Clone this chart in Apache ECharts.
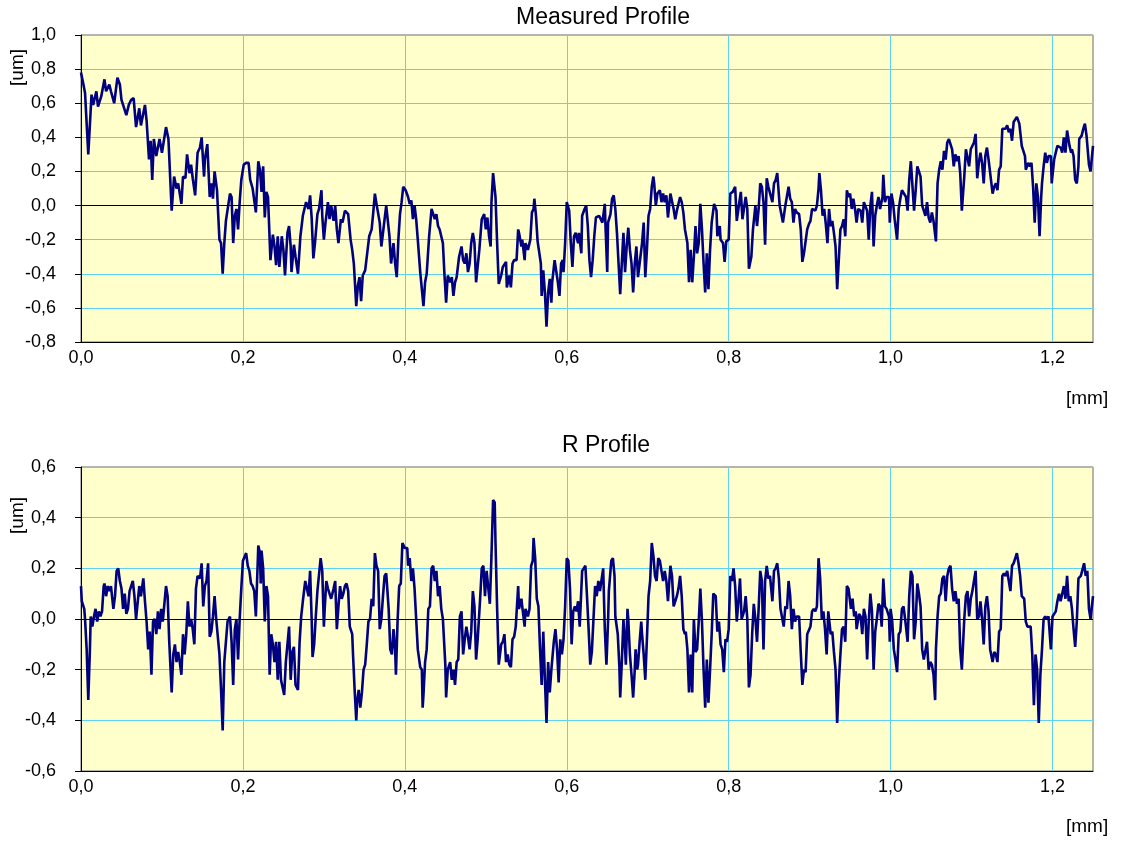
<!DOCTYPE html>
<html>
<head>
<meta charset="utf-8">
<title>Profiles</title>
<script src="https://cdn.jsdelivr.net/npm/echarts@6/dist/echarts.min.js"></script>
<style>
  html, body { margin: 0; padding: 0; background: #fff; }
  #chart { width: 1126px; height: 841px; }
</style>
</head>
<body>
<div id="chart"></div>
<script>
// [mm, um] pairs
var measuredProfile = [
  [0.000,0.78],[0.003,0.71],[0.005,0.66],[0.009,0.30],[0.013,0.65],[0.015,0.59],[0.019,0.67],[0.021,0.58],
  [0.025,0.64],[0.029,0.74],[0.031,0.67],[0.035,0.71],[0.037,0.67],[0.041,0.60],[0.045,0.75],[0.048,0.71],
  [0.050,0.62],[0.052,0.63],[0.056,0.53],[0.059,0.59],[0.062,0.62],[0.065,0.63],[0.068,0.46],[0.072,0.57],
  [0.074,0.47],[0.079,0.59],[0.081,0.50],[0.084,0.27],[0.086,0.38],[0.088,0.15],[0.090,0.39],[0.093,0.29],
  [0.097,0.39],[0.100,0.31],[0.102,0.37],[0.105,0.46],[0.108,0.39],[0.112,-0.03],[0.115,0.17],[0.118,0.10],
  [0.120,0.13],[0.124,0.01],[0.126,0.17],[0.129,0.16],[0.131,0.30],[0.134,0.19],[0.136,0.24],[0.138,0.16],
  [0.141,0.06],[0.144,0.31],[0.147,0.34],[0.149,0.40],[0.152,0.17],[0.153,0.27],[0.156,0.36],[0.159,0.05],
  [0.161,0.13],[0.163,0.04],[0.165,0.20],[0.168,0.09],[0.171,-0.20],[0.173,-0.22],[0.175,-0.40],[0.177,-0.22],
  [0.179,-0.09],[0.181,-0.10],[0.184,0.07],[0.186,0.05],[0.188,-0.22],[0.190,-0.06],[0.192,-0.02],[0.194,-0.14],
  [0.196,0.02],[0.198,0.15],[0.201,0.24],[0.204,0.25],[0.207,0.25],[0.209,0.15],[0.212,0.10],[0.214,0.11],
  [0.216,-0.04],[0.219,0.26],[0.221,0.21],[0.223,0.08],[0.225,0.23],[0.227,-0.07],[0.229,0.08],[0.231,0.05],
  [0.234,-0.32],[0.237,-0.17],[0.239,-0.24],[0.241,-0.35],[0.243,-0.18],[0.245,-0.36],[0.248,-0.18],
  [0.250,-0.26],[0.252,-0.41],[0.255,-0.16],[0.257,-0.12],[0.259,-0.24],[0.260,-0.39],[0.263,-0.23],[0.265,-0.30],
  [0.268,-0.40],[0.271,-0.18],[0.274,-0.06],[0.278,0.02],[0.281,-0.02],[0.283,0.06],[0.285,-0.08],[0.287,-0.31],
  [0.289,-0.22],[0.292,-0.05],[0.294,-0.02],[0.297,0.09],[0.298,-0.06],[0.300,-0.20],[0.302,-0.10],[0.305,0.02],
  [0.307,-0.08],[0.309,0.00],[0.312,-0.09],[0.314,0.00],[0.316,-0.14],[0.318,-0.22],[0.321,-0.08],[0.323,-0.10],
  [0.326,-0.03],[0.330,-0.05],[0.333,-0.20],[0.335,-0.26],[0.337,-0.34],[0.340,-0.59],[0.342,-0.47],[0.344,-0.42],
  [0.346,-0.56],[0.348,-0.41],[0.351,-0.38],[0.354,-0.26],[0.356,-0.18],[0.359,-0.14],[0.361,-0.04],[0.363,0.07],
  [0.365,0.01],[0.367,0.02],[0.369,-0.10],[0.371,-0.24],[0.374,-0.12],[0.377,0.00],[0.378,0.00],[0.381,-0.18],
  [0.383,-0.34],[0.386,-0.22],[0.388,-0.34],[0.390,-0.42],[0.392,-0.20],[0.394,-0.05],[0.396,0.02],[0.398,0.11],
  [0.401,0.09],[0.404,0.05],[0.406,0.01],[0.408,0.03],[0.410,-0.08],[0.412,0.00],[0.414,-0.08],[0.416,-0.20],
  [0.419,-0.39],[0.421,-0.40],[0.423,-0.59],[0.425,-0.45],[0.427,-0.40],[0.430,-0.18],[0.433,-0.02],[0.435,-0.02],
  [0.437,-0.08],[0.439,-0.05],[0.441,-0.12],[0.443,-0.14],[0.447,-0.22],[0.449,-0.41],[0.451,-0.57],[0.453,-0.41],
  [0.456,-0.45],[0.458,-0.42],[0.460,-0.53],[0.462,-0.45],[0.464,-0.42],[0.467,-0.30],[0.470,-0.24],[0.472,-0.32],
  [0.474,-0.34],[0.476,-0.28],[0.478,-0.39],[0.480,-0.34],[0.482,-0.22],[0.484,-0.16],[0.486,-0.22],[0.488,-0.45],
  [0.492,-0.26],[0.495,-0.08],[0.498,-0.05],
  [0.500,-0.14],[0.502,-0.07],[0.504,-0.18],[0.506,-0.24],[0.507,0.02],[0.509,0.19],[0.511,0.20],[0.512,0.05],
  [0.514,-0.22],[0.516,-0.46],[0.519,-0.41],[0.521,-0.36],[0.523,-0.36],[0.525,-0.33],[0.526,-0.48],[0.529,-0.41],
  [0.531,-0.48],[0.533,-0.34],[0.535,-0.32],[0.538,-0.32],[0.540,-0.14],[0.541,-0.16],[0.544,-0.24],[0.545,-0.20],
  [0.548,-0.32],[0.549,-0.22],[0.552,-0.26],[0.555,-0.20],[0.557,-0.04],[0.559,-0.02],[0.560,0.04],[0.562,-0.06],
  [0.564,-0.21],[0.566,-0.22],[0.568,-0.34],[0.569,-0.53],[0.571,-0.38],[0.573,-0.51],[0.575,-0.71],[0.577,-0.51],
  [0.579,-0.43],[0.581,-0.57],[0.582,-0.45],[0.585,-0.32],[0.586,-0.31],[0.589,-0.45],[0.591,-0.53],[0.593,-0.34],
  [0.595,-0.32],[0.596,-0.39],[0.598,-0.22],[0.600,0.02],[0.603,-0.03],[0.605,-0.22],[0.607,-0.36],[0.609,-0.18],
  [0.611,-0.16],[0.614,-0.22],[0.615,-0.16],[0.618,-0.28],[0.619,-0.06],[0.622,-0.02],[0.624,0.00],[0.626,-0.12],
  [0.628,-0.32],[0.630,-0.42],[0.632,-0.32],[0.634,-0.18],[0.636,-0.07],[0.638,-0.08],[0.640,-0.06],[0.642,-0.05],
  [0.644,-0.10],[0.647,0.01],[0.648,-0.14],[0.650,-0.39],[0.651,-0.10],[0.654,-0.05],[0.656,0.04],[0.658,0.06],
  [0.660,-0.02],[0.662,-0.16],[0.664,-0.34],[0.666,-0.52],[0.668,-0.34],[0.670,-0.16],[0.672,-0.39],[0.674,-0.24],
  [0.676,-0.13],[0.678,-0.26],[0.680,-0.34],[0.682,-0.51],[0.684,-0.34],[0.686,-0.24],[0.688,-0.42],[0.691,-0.30],
  [0.693,-0.22],[0.695,-0.10],[0.697,-0.42],[0.699,-0.26],[0.701,-0.06],[0.703,-0.02],[0.705,0.11],[0.707,0.17],
  [0.708,0.13],[0.710,0.00],[0.712,0.07],[0.715,0.09],[0.717,0.02],[0.719,0.07],[0.721,0.02],[0.723,0.06],
  [0.725,-0.07],[0.728,0.07],[0.730,0.07],[0.732,-0.02],[0.734,-0.08],[0.736,-0.03],[0.738,-0.02],[0.740,0.05],
  [0.742,0.02],[0.744,-0.04],[0.746,-0.14],
  [0.749,-0.22],[0.751,-0.45],[0.753,-0.26],[0.755,-0.45],[0.757,-0.30],[0.759,-0.12],[0.761,-0.28],[0.763,-0.22],
  [0.765,0.01],[0.767,-0.14],[0.769,-0.34],[0.771,-0.51],[0.773,-0.28],[0.775,-0.49],[0.777,-0.26],[0.779,-0.10],
  [0.782,0.01],[0.785,-0.03],[0.786,-0.18],[0.789,-0.12],[0.790,-0.20],[0.793,-0.22],[0.795,-0.33],[0.797,-0.21],
  [0.800,-0.20],[0.802,0.07],[0.805,0.08],[0.808,0.11],[0.810,-0.09],[0.812,-0.02],[0.815,0.08],[0.817,-0.08],
  [0.819,-0.08],[0.821,0.05],[0.823,-0.02],[0.825,-0.37],[0.828,-0.30],[0.830,-0.14],[0.833,0.00],[0.835,-0.12],
  [0.837,-0.02],[0.839,0.13],[0.841,0.11],[0.843,0.02],[0.845,-0.23],[0.847,0.16],[0.849,0.11],[0.851,0.12],
  [0.854,0.02],[0.856,0.13],[0.858,0.15],[0.860,0.19],[0.863,0.00],[0.865,0.00],[0.867,-0.10],[0.870,0.00],
  [0.872,0.00],[0.874,0.11],[0.876,0.04],[0.878,0.02],[0.880,-0.10],[0.882,-0.02],[0.884,-0.04],[0.887,-0.05],
  [0.889,-0.14],[0.891,-0.33],[0.893,-0.28],[0.895,-0.27],[0.897,-0.14],[0.899,-0.11],[0.901,-0.09],[0.903,-0.02],
  [0.905,-0.01],[0.907,-0.03],[0.909,0.00],[0.911,0.10],[0.912,0.19],[0.914,0.09],[0.916,-0.06],[0.918,-0.02],
  [0.920,-0.11],[0.922,-0.22],[0.924,-0.02],[0.926,-0.12],[0.928,-0.09],[0.930,-0.16],[0.932,-0.24],[0.934,-0.49],
  [0.936,-0.32],[0.938,-0.14],[0.940,-0.12],[0.942,-0.08],[0.944,-0.18],[0.946,0.09],[0.948,0.05],[0.950,0.07],
  [0.952,-0.02],[0.954,0.04],[0.956,-0.02],[0.958,-0.10],[0.960,-0.02],[0.963,-0.03],[0.965,-0.10],[0.967,0.02],
  [0.969,0.02],[0.971,-0.03],[0.973,-0.20],[0.975,0.00],[0.977,0.08],[0.979,-0.24],[0.981,-0.06],[0.983,0.00],
  [0.985,0.05],[0.987,-0.02],[0.990,0.05],[0.991,0.18],[0.993,0.02],[0.995,0.05],
  [0.996,0.04],[0.998,0.05],[0.999,-0.10],[1.001,0.07],[1.003,0.02],[1.005,-0.08],[1.008,-0.20],[1.010,-0.02],
  [1.012,0.04],[1.014,0.09],[1.016,0.10],[1.019,0.05],[1.021,-0.03],[1.023,0.15],[1.025,0.26],[1.027,0.25],
  [1.029,-0.03],[1.031,0.09],[1.033,0.23],[1.035,0.20],[1.037,0.17],[1.039,0.00],[1.041,-0.03],[1.043,-0.06],
  [1.045,0.02],[1.047,-0.07],[1.049,-0.10],[1.051,-0.04],[1.053,-0.09],[1.056,-0.21],[1.058,0.13],[1.060,0.21],
  [1.062,0.26],[1.064,0.21],[1.066,0.32],[1.068,0.27],[1.070,0.37],[1.072,0.39],[1.074,0.40],[1.076,0.33],
  [1.078,0.23],[1.080,0.30],[1.082,0.26],[1.084,0.29],[1.086,0.19],[1.088,-0.03],[1.091,0.17],[1.093,0.33],
  [1.095,0.33],[1.097,0.23],[1.099,0.33],[1.101,0.34],[1.103,0.37],[1.105,0.42],[1.107,0.16],[1.109,0.25],
  [1.111,0.31],[1.113,0.25],[1.115,0.13],[1.117,0.29],[1.119,0.34],[1.121,0.27],[1.123,0.19],[1.126,0.07],
  [1.128,0.11],[1.130,0.13],[1.132,0.09],[1.134,0.21],[1.136,0.23],[1.138,0.45],[1.140,0.46],[1.142,0.45],
  [1.144,0.47],[1.146,0.43],[1.148,0.45],[1.150,0.38],[1.152,0.49],[1.154,0.49],[1.156,0.52],[1.158,0.53],
  [1.159,0.48],[1.162,0.35],[1.164,0.36],[1.166,0.29],[1.167,0.21],[1.170,0.25],[1.172,0.23],[1.174,0.25],
  [1.176,0.11],[1.178,-0.10],[1.180,0.13],[1.182,0.05],[1.184,-0.18],[1.186,0.05],[1.187,0.13],[1.189,0.23],
  [1.191,0.31],[1.193,0.25],[1.195,0.29],[1.198,0.29],[1.199,0.13],[1.202,0.27],[1.204,0.28],[1.206,0.35],
  [1.208,0.36],[1.210,0.34],[1.212,0.31],[1.214,0.40],[1.216,0.31],[1.218,0.44],[1.219,0.41],[1.221,0.35],
  [1.223,0.31],[1.224,0.33],[1.226,0.29],[1.228,0.15],[1.230,0.13],[1.232,0.23],[1.233,0.39],[1.236,0.41],
  [1.238,0.45],[1.240,0.48],[1.242,0.41],[1.243,0.41],[1.245,0.24],[1.247,0.20],[1.250,0.35]
];

var rProfile = [
  [0.000,0.13],[0.001,0.07],[0.004,0.04],[0.005,0.00],[0.007,-0.12],[0.009,-0.32],[0.011,-0.12],[0.012,0.01],
  [0.014,-0.03],[0.016,0.01],[0.018,0.04],[0.020,-0.01],[0.022,0.03],[0.024,0.01],[0.026,0.03],[0.028,0.13],
  [0.029,0.14],[0.031,0.09],[0.033,0.13],[0.035,0.11],[0.037,0.13],[0.040,0.04],[0.042,0.09],[0.044,0.19],
  [0.046,0.20],[0.048,0.15],[0.050,0.12],[0.052,0.04],[0.054,0.10],[0.056,0.02],[0.058,0.04],[0.060,0.11],
  [0.062,0.11],[0.064,0.15],[0.066,0.09],[0.068,0.00],[0.070,0.00],[0.072,0.13],[0.074,0.09],[0.077,0.16],
  [0.079,0.07],[0.081,-0.01],[0.083,-0.12],[0.085,-0.05],[0.087,-0.22],[0.089,-0.01],[0.091,0.00],[0.093,-0.06],
  [0.095,0.03],[0.097,-0.04],[0.099,0.04],[0.101,-0.01],[0.103,-0.01],[0.105,0.13],[0.107,0.09],[0.109,-0.09],
  [0.112,-0.29],[0.114,-0.14],[0.116,-0.10],[0.118,-0.17],[0.120,-0.13],[0.122,-0.17],[0.124,-0.22],[0.126,-0.06],
  [0.128,-0.14],[0.130,-0.06],[0.132,0.07],[0.134,-0.03],[0.136,0.00],[0.138,-0.04],[0.140,-0.10],[0.142,0.12],
  [0.144,0.17],[0.147,0.16],[0.149,0.22],[0.151,0.05],[0.153,0.13],[0.155,0.15],[0.157,0.22],[0.159,-0.07],
  [0.161,-0.05],[0.163,0.01],[0.165,0.09],[0.167,0.00],[0.169,0.00],[0.171,-0.14],[0.173,-0.28],[0.175,-0.44],
  [0.177,-0.17],[0.179,-0.17],[0.181,-0.01],[0.184,0.01],[0.186,-0.09],[0.188,-0.26],[0.190,-0.04],[0.192,0.00],
  [0.194,-0.16],[0.196,0.00],[0.198,0.12],[0.200,0.23],[0.202,0.23],[0.204,0.26],[0.206,0.21],[0.208,0.19],
  [0.210,0.14],[0.212,0.13],[0.214,0.11],[0.216,0.01],[0.219,0.29],[0.221,0.26],[0.222,0.14],[0.223,0.27],
  [0.225,0.20],[0.227,-0.01],[0.229,0.13],[0.231,0.09],[0.233,-0.22],[0.235,-0.06],[0.237,-0.10],[0.239,-0.17],
  [0.241,-0.09],[0.243,-0.24],[0.245,-0.09],[0.247,-0.24],
  [0.251,-0.30],[0.253,-0.17],[0.255,-0.10],[0.257,-0.03],[0.259,-0.24],[0.261,-0.13],[0.263,-0.11],[0.265,-0.26],
  [0.268,-0.28],[0.270,-0.09],[0.272,0.01],[0.274,0.07],[0.277,0.15],[0.279,0.12],[0.281,0.09],[0.283,0.19],
  [0.285,-0.01],[0.286,-0.15],[0.288,-0.10],[0.290,0.01],[0.292,0.11],[0.294,0.11],[0.296,0.24],[0.298,0.19],
  [0.300,-0.03],[0.301,0.04],[0.303,0.15],[0.305,0.12],[0.307,0.12],[0.309,0.08],[0.312,0.12],[0.314,0.15],
  [0.316,-0.04],[0.318,0.05],[0.320,0.13],[0.322,0.08],[0.324,0.10],[0.326,0.13],[0.328,0.14],[0.330,0.11],
  [0.332,-0.03],[0.335,-0.06],[0.336,-0.14],[0.338,-0.28],[0.340,-0.40],[0.341,-0.33],[0.343,-0.28],[0.345,-0.35],
  [0.347,-0.29],[0.349,-0.20],[0.351,-0.18],[0.353,-0.10],[0.355,-0.01],[0.357,0.00],[0.359,0.08],[0.361,0.05],
  [0.363,0.26],[0.365,0.21],[0.367,0.19],[0.369,-0.04],[0.371,0.00],[0.373,0.09],[0.375,0.17],[0.377,0.18],
  [0.380,0.04],[0.382,-0.12],[0.384,-0.14],[0.386,-0.04],[0.388,-0.12],[0.389,-0.22],[0.391,-0.01],[0.393,0.13],
  [0.395,0.14],[0.397,0.30],[0.399,0.30],[0.400,0.28],[0.403,0.28],[0.404,0.21],[0.406,0.24],[0.408,0.15],
  [0.410,0.20],[0.412,0.12],[0.414,0.00],[0.416,-0.12],[0.419,-0.19],[0.421,-0.20],[0.422,-0.35],[0.423,-0.30],
  [0.425,-0.17],[0.427,-0.12],[0.429,0.04],[0.431,0.05],[0.433,0.20],[0.435,0.21],[0.437,0.15],[0.439,0.19],
  [0.441,0.09],[0.443,0.13],[0.445,0.04],[0.447,0.00],[0.450,-0.18],[0.451,-0.31],[0.453,-0.20],[0.456,-0.17],
  [0.458,-0.24],[0.460,-0.20],[0.462,-0.26],[0.464,-0.17],[0.466,-0.16],[0.468,0.01],[0.470,0.03],[0.472,-0.14],
  [0.474,-0.08],[0.476,-0.03],[0.478,-0.07],[0.480,-0.12],[0.482,-0.05],[0.484,0.11],[0.486,0.05],[0.488,-0.16],
  [0.490,-0.08],[0.493,0.08],[0.495,0.20],[0.497,0.21],
  [0.499,0.09],[0.501,0.19],[0.503,0.19],[0.505,0.06],[0.507,0.25],[0.509,0.47],[0.511,0.46],[0.512,0.30],
  [0.514,0.04],[0.516,-0.18],[0.519,-0.10],[0.521,-0.09],[0.523,-0.06],[0.525,-0.17],[0.527,-0.14],[0.529,-0.18],
  [0.531,-0.19],[0.533,-0.08],[0.535,-0.07],[0.537,-0.03],[0.540,0.13],[0.541,0.04],[0.544,0.08],[0.545,0.05],
  [0.548,-0.03],[0.549,0.04],[0.552,0.01],[0.554,0.04],[0.556,0.21],[0.558,0.23],[0.559,0.32],[0.561,0.24],
  [0.563,0.08],[0.565,0.05],[0.567,-0.12],[0.569,-0.26],[0.571,-0.05],[0.573,-0.24],[0.575,-0.41],[0.577,-0.17],
  [0.579,-0.29],[0.581,-0.20],[0.584,-0.09],[0.586,-0.04],[0.588,-0.12],[0.590,-0.25],[0.592,-0.08],[0.594,-0.14],
  [0.596,-0.08],[0.598,0.05],[0.600,0.24],[0.602,0.23],[0.604,0.12],[0.606,-0.10],[0.608,0.03],[0.610,0.05],
  [0.612,0.03],[0.614,0.07],[0.616,-0.03],[0.619,0.19],[0.621,0.20],[0.623,0.21],[0.625,0.09],[0.627,-0.04],
  [0.629,-0.18],[0.631,-0.13],[0.633,0.00],[0.635,0.13],[0.637,0.09],[0.639,0.15],[0.641,0.11],[0.643,0.11],
  [0.645,0.20],[0.647,-0.04],[0.649,-0.18],[0.651,-0.01],[0.652,0.11],[0.655,0.23],[0.657,0.24],[0.659,0.17],
  [0.660,0.01],[0.663,-0.06],[0.665,-0.19],[0.666,-0.31],[0.668,-0.17],[0.670,0.00],[0.671,-0.05],[0.673,-0.18],
  [0.675,0.04],[0.676,0.00],[0.678,-0.14],[0.680,-0.22],[0.682,-0.31],[0.684,-0.20],[0.685,-0.12],[0.687,-0.20],
  [0.688,-0.18],[0.690,-0.09],[0.692,-0.01],[0.693,-0.06],[0.695,-0.14],[0.697,-0.24],[0.699,-0.08],[0.701,0.09],
  [0.703,0.15],[0.705,0.30],[0.707,0.25],[0.709,0.17],[0.711,0.15],[0.713,0.24],[0.715,0.23],[0.717,0.19],
  [0.719,0.15],[0.721,0.19],[0.723,0.15],[0.725,0.07],[0.728,0.21],[0.730,0.17],[0.732,0.05],[0.734,0.07],
  [0.736,0.09],[0.738,0.12],[0.740,0.17],[0.742,0.09],[0.744,-0.04],[0.746,-0.06],
  [0.747,-0.05],[0.749,-0.12],[0.751,-0.29],[0.753,-0.14],[0.755,-0.29],[0.757,0.00],[0.759,-0.13],[0.761,-0.12],
  [0.763,-0.01],[0.765,0.12],[0.767,-0.01],[0.769,-0.20],[0.771,-0.35],[0.773,-0.16],[0.775,-0.33],[0.777,-0.20],
  [0.779,-0.06],[0.781,0.10],[0.784,0.09],[0.786,-0.05],[0.788,-0.01],[0.790,-0.10],[0.792,-0.12],[0.794,-0.21],
  [0.796,-0.08],[0.798,-0.09],[0.800,-0.04],[0.802,0.17],[0.804,0.15],[0.806,0.20],[0.808,0.13],[0.810,-0.01],
  [0.812,0.07],[0.814,0.16],[0.816,0.00],[0.819,0.03],[0.821,0.09],[0.823,0.00],[0.825,-0.27],[0.827,-0.22],
  [0.829,-0.06],[0.831,0.06],[0.833,0.00],[0.835,-0.09],[0.837,0.04],[0.839,0.19],[0.841,0.15],[0.843,-0.12],
  [0.845,0.15],[0.847,0.21],[0.849,0.16],[0.851,0.17],[0.854,0.07],[0.856,0.19],[0.858,0.20],[0.860,0.22],
  [0.862,0.16],[0.864,0.04],[0.866,0.04],[0.868,-0.03],[0.870,0.05],[0.872,0.04],[0.874,0.15],[0.876,0.09],
  [0.878,-0.04],[0.880,0.04],[0.882,-0.01],[0.884,0.01],[0.887,0.01],[0.889,-0.13],[0.891,-0.26],[0.893,-0.20],
  [0.895,-0.21],[0.897,-0.06],[0.899,-0.06],[0.901,-0.03],[0.903,0.03],[0.905,0.04],[0.907,0.03],[0.909,0.05],
  [0.911,0.24],[0.913,0.16],[0.915,0.00],[0.917,0.03],[0.919,-0.04],[0.921,-0.14],[0.923,0.03],[0.926,-0.06],
  [0.928,-0.05],[0.930,-0.13],[0.932,-0.20],[0.934,-0.41],[0.936,-0.25],[0.938,-0.14],[0.940,-0.04],[0.942,-0.03],
  [0.944,-0.09],[0.946,0.13],[0.948,0.12],[0.951,0.04],[0.953,0.08],[0.955,0.01],[0.957,0.03],[0.958,-0.04],
  [0.961,0.02],[0.963,0.01],[0.965,-0.06],[0.967,0.04],[0.969,0.01],[0.971,-0.16],[0.973,-0.01],[0.975,0.10],
  [0.977,0.03],[0.979,-0.20],[0.981,-0.05],[0.983,0.00],[0.985,0.06],[0.987,0.05],[0.989,-0.03],[0.991,0.16],
  [0.993,0.05],[0.995,0.04],
  [0.996,0.04],[0.998,0.01],[0.999,-0.09],[1.000,0.04],[1.002,-0.01],[1.004,-0.12],[1.006,-0.16],[1.008,-0.21],
  [1.010,-0.06],[1.012,-0.05],[1.014,0.04],[1.016,0.05],[1.019,-0.03],[1.021,-0.09],[1.023,0.09],[1.025,0.19],
  [1.027,0.17],[1.029,-0.08],[1.031,-0.01],[1.033,0.14],[1.035,0.10],[1.037,0.05],[1.039,-0.12],[1.041,-0.16],
  [1.043,-0.16],[1.045,-0.09],[1.047,-0.20],[1.049,-0.17],[1.051,-0.18],[1.053,-0.22],[1.055,-0.32],[1.056,-0.12],
  [1.058,0.01],[1.060,0.09],[1.062,0.10],[1.064,0.16],[1.066,0.17],[1.068,0.07],[1.070,0.17],[1.072,0.20],
  [1.074,0.21],[1.076,0.12],[1.078,0.07],[1.080,0.11],[1.082,0.06],[1.084,0.08],[1.086,-0.12],[1.088,-0.20],
  [1.091,0.00],[1.093,0.09],[1.095,0.11],[1.097,0.01],[1.099,0.08],[1.101,0.11],[1.103,0.15],[1.105,0.19],
  [1.107,0.00],[1.109,0.01],[1.111,0.07],[1.113,0.00],[1.115,-0.10],[1.117,0.05],[1.119,0.09],[1.121,0.03],
  [1.123,-0.12],[1.126,-0.17],[1.128,-0.13],[1.130,-0.14],[1.132,-0.17],[1.134,-0.05],[1.136,-0.04],[1.138,0.17],
  [1.140,0.18],[1.142,0.17],[1.144,0.19],[1.146,0.15],[1.148,0.11],[1.150,0.21],[1.152,0.22],[1.154,0.22],
  [1.156,0.26],[1.158,0.22],[1.160,0.17],[1.162,0.09],[1.165,0.08],[1.167,-0.01],[1.169,-0.03],[1.171,-0.03],
  [1.173,-0.03],[1.175,-0.14],[1.177,-0.34],[1.179,-0.14],[1.181,-0.20],[1.183,-0.41],[1.185,-0.22],[1.187,-0.12],
  [1.189,0.00],[1.191,0.01],[1.193,0.00],[1.195,0.01],[1.198,-0.12],[1.200,0.01],[1.202,0.01],[1.204,0.03],
  [1.206,0.07],[1.208,0.10],[1.210,0.07],[1.212,0.07],[1.214,0.13],[1.216,0.08],[1.218,0.17],[1.220,0.07],
  [1.222,0.09],[1.224,0.04],[1.226,-0.04],[1.228,-0.11],[1.230,-0.01],[1.232,0.16],[1.235,0.17],[1.237,0.17],
  [1.239,0.22],[1.241,0.17],[1.243,0.19],[1.245,0.04],[1.247,0.00],[1.250,0.09]
];

var titles = ["Measured Profile", "R Profile"];
var yRanges = [[-0.8, 1.0], [-0.6, 0.6]];
var xRange = [0, 1.25];
var tickStep = 0.2;

var FONT = "Liberation Sans, Arial, sans-serif";
var lineColor = "#000080";
var gridColor = "#5cd3f2";

function comma(v) {
  return v.toFixed(1).replace(".", ",");
}

var myChart = echarts.init(document.getElementById("chart"));

var grids = [
  { left: 81, top: 35, width: 1012, height: 307 },
  { left: 81, top: 467, width: 1012, height: 304 }
];

var textStyle = { fontSize: 19, fill: "#000", fontFamily: FONT };

var option = {
  backgroundColor: "#ffffff",
  animation: false,
  textStyle: { fontFamily: FONT },
  grid: grids.map(function (g) {
    return Object.assign({ show: true, backgroundColor: "#ffffcc", borderColor: "#6a6a6a", borderWidth: 1 }, g);
  }),
  xAxis: [0, 1].map(function (i) {
    return {
      type: "value",
      gridIndex: i,
      min: xRange[0],
      max: xRange[1],
      interval: tickStep,
      axisLine: { show: true, onZero: false, lineStyle: { color: "#000", width: 1 } },
      axisTick: { show: false },
      axisLabel: {
        color: "#000", fontSize: 18, margin: 7, fontFamily: FONT,
        showMaxLabel: false,
        formatter: comma
      },
      splitLine: { show: true, lineStyle: { color: gridColor, width: 1 } }
    };
  }),
  yAxis: [0, 1].map(function (i) {
    return {
      type: "value",
      gridIndex: i,
      min: yRanges[i][0],
      max: yRanges[i][1],
      interval: tickStep,
      axisLine: { show: true, lineStyle: { color: "#000", width: 1 } },
      axisTick: { show: true, length: 6, lineStyle: { color: "#000" } },
      axisLabel: { color: "#000", fontSize: 18, margin: 25, fontFamily: FONT, formatter: comma },
      splitLine: { show: true, lineStyle: { color: gridColor, width: 1 } }
    };
  }),
  graphic: [
    { type: "text", x: 603, y: 18,
      style: Object.assign({ text: titles[0], textAlign: "center", textVerticalAlign: "middle" }, textStyle, { fontSize: 23 }) },
    { type: "text", x: 606, y: 446,
      style: Object.assign({ text: titles[1], textAlign: "center", textVerticalAlign: "middle" }, textStyle, { fontSize: 23 }) },
    { type: "text", left: 8, top: 49, rotation: Math.PI / 2,
      style: Object.assign({ text: "[um]" }, textStyle) },
    { type: "text", left: 8, top: 497, rotation: Math.PI / 2,
      style: Object.assign({ text: "[um]" }, textStyle) },
    { type: "text", left: 1066, top: 389,
      style: Object.assign({ text: "[mm]" }, textStyle) },
    { type: "text", left: 1066, top: 817,
      style: Object.assign({ text: "[mm]" }, textStyle) }
  ],
  series: [measuredProfile, rProfile].map(function (data, i) {
    return {
      type: "line",
      xAxisIndex: i,
      yAxisIndex: i,
      data: data,
      showSymbol: false,
      symbol: "none",
      lineStyle: { color: lineColor, width: 2.6 },
      markLine: {
        silent: true,
        symbol: "none",
        label: { show: false },
        lineStyle: { color: "#000", width: 1, type: "solid" },
        data: [{ yAxis: 0 }]
      }
    };
  })
};

myChart.setOption(option);
window.onresize = function () {
  myChart.resize();
};
</script>
</body>
</html>
